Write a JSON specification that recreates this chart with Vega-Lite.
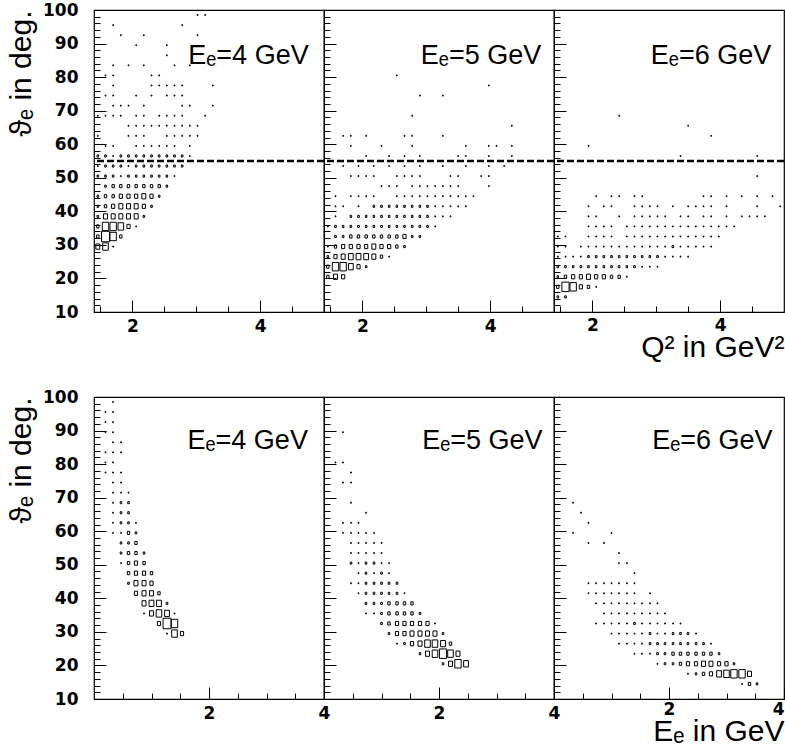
{
  "$schema": "https://vega.github.io/schema/vega-lite/v6.json",
  "background": "white",
  "padding": {"left": 5, "top": 0, "right": 0, "bottom": 0},
  "config": {
    "view": {"stroke": "black", "strokeWidth": 1.2},
    "font": "Liberation Sans",
    "axis": {"domain": false, "grid": false, "tickColor": "black", "tickWidth": 1, "tickCount": 100, "labelColor": "black", "labelFont": "DejaVu Sans", "labelFontWeight": "bold", "labelFontSize": 17, "labelOverlap": false, "labelFlush": false, "labelBound": false, "titleColor": "black", "titleFont": "Liberation Sans", "titleFontWeight": "normal", "titleFontSize": 30}
  },
  "datasets": {
    "q4": [
      {"x":1.46,"t":29.5,"n":5},{"x":1.58,"t":29.5,"n":7},{"x":1.7,"t":29.5,"n":1},
      {"x":1.46,"t":32.5,"n":3},{"x":1.58,"t":32.5,"n":10},{"x":1.7,"t":32.5,"n":8},{"x":1.82,"t":32.5,"n":3},
      {"x":1.46,"t":35.5,"n":3},{"x":1.58,"t":35.5,"n":8},{"x":1.7,"t":35.5,"n":8},{"x":1.82,"t":35.5,"n":7},{"x":1.94,"t":35.5,"n":4},{"x":2.06,"t":35.5,"n":1},
      {"x":1.46,"t":38.5,"n":2},{"x":1.58,"t":38.5,"n":5},{"x":1.7,"t":38.5,"n":5},{"x":1.82,"t":38.5,"n":5},{"x":1.94,"t":38.5,"n":5},{"x":2.06,"t":38.5,"n":5},{"x":2.18,"t":38.5,"n":2},
      {"x":1.46,"t":41.5,"n":2},{"x":1.58,"t":41.5,"n":3},{"x":1.7,"t":41.5,"n":4},{"x":1.82,"t":41.5,"n":5},{"x":1.94,"t":41.5,"n":5},{"x":2.06,"t":41.5,"n":5},{"x":2.18,"t":41.5,"n":4},{"x":2.3,"t":41.5,"n":2},
      {"x":1.46,"t":44.5,"n":2},{"x":1.58,"t":44.5,"n":3},{"x":1.7,"t":44.5,"n":3},{"x":1.82,"t":44.5,"n":4},{"x":1.94,"t":44.5,"n":4},{"x":2.06,"t":44.5,"n":4},{"x":2.18,"t":44.5,"n":5},{"x":2.3,"t":44.5,"n":4},{"x":2.42,"t":44.5,"n":2},
      {"x":1.58,"t":47.5,"n":2},{"x":1.7,"t":47.5,"n":3},{"x":1.82,"t":47.5,"n":3},{"x":1.94,"t":47.5,"n":3},{"x":2.06,"t":47.5,"n":3},{"x":2.18,"t":47.5,"n":3},{"x":2.3,"t":47.5,"n":3},{"x":2.42,"t":47.5,"n":3},{"x":2.54,"t":47.5,"n":2},
      {"x":1.46,"t":50.5,"n":2},{"x":1.58,"t":50.5,"n":2},{"x":1.7,"t":50.5,"n":2},{"x":1.82,"t":50.5,"n":1},{"x":1.94,"t":50.5,"n":2},{"x":2.06,"t":50.5,"n":2},{"x":2.18,"t":50.5,"n":2},{"x":2.3,"t":50.5,"n":2},{"x":2.42,"t":50.5,"n":2},{"x":2.54,"t":50.5,"n":2},{"x":2.66,"t":50.5,"n":1},
      {"x":1.46,"t":53.5,"n":1},{"x":1.58,"t":53.5,"n":2},{"x":1.7,"t":53.5,"n":2},{"x":1.82,"t":53.5,"n":2},{"x":1.94,"t":53.5,"n":1},{"x":2.06,"t":53.5,"n":2},{"x":2.18,"t":53.5,"n":2},{"x":2.3,"t":53.5,"n":2},{"x":2.42,"t":53.5,"n":2},{"x":2.54,"t":53.5,"n":2},{"x":2.66,"t":53.5,"n":2},{"x":2.78,"t":53.5,"n":2},
      {"x":1.46,"t":56.5,"n":2},{"x":1.58,"t":56.5,"n":2},{"x":1.7,"t":56.5,"n":1},{"x":1.82,"t":56.5,"n":2},{"x":1.94,"t":56.5,"n":2},{"x":2.06,"t":56.5,"n":2},{"x":2.18,"t":56.5,"n":2},{"x":2.3,"t":56.5,"n":2},{"x":2.42,"t":56.5,"n":2},{"x":2.54,"t":56.5,"n":2},{"x":2.66,"t":56.5,"n":2},{"x":2.78,"t":56.5,"n":2},{"x":2.9,"t":56.5,"n":1},
      {"x":1.58,"t":59.5,"n":1},{"x":1.7,"t":59.5,"n":1},{"x":2.06,"t":59.5,"n":1},{"x":2.18,"t":59.5,"n":1},{"x":2.3,"t":59.5,"n":1},{"x":2.42,"t":59.5,"n":1},{"x":2.54,"t":59.5,"n":1},{"x":2.66,"t":59.5,"n":1},{"x":2.9,"t":59.5,"n":1},
      {"x":1.46,"t":62.5,"n":1},{"x":1.94,"t":62.5,"n":1},{"x":2.06,"t":62.5,"n":1},{"x":2.18,"t":62.5,"n":1},{"x":2.54,"t":62.5,"n":1},{"x":2.66,"t":62.5,"n":1},{"x":2.78,"t":62.5,"n":1},{"x":2.9,"t":62.5,"n":1},{"x":3.02,"t":62.5,"n":1},
      {"x":1.94,"t":65.5,"n":1},{"x":2.06,"t":65.5,"n":1},{"x":2.18,"t":65.5,"n":1},{"x":2.3,"t":65.5,"n":1},{"x":2.42,"t":65.5,"n":1},{"x":2.54,"t":65.5,"n":1},{"x":2.66,"t":65.5,"n":1},{"x":2.78,"t":65.5,"n":1},{"x":2.9,"t":65.5,"n":1},{"x":3.02,"t":65.5,"n":1},
      {"x":1.46,"t":68.5,"n":1},{"x":1.58,"t":68.5,"n":1},{"x":1.7,"t":68.5,"n":1},{"x":1.82,"t":68.5,"n":1},{"x":2.06,"t":68.5,"n":1},{"x":2.18,"t":68.5,"n":1},{"x":2.42,"t":68.5,"n":1},{"x":2.54,"t":68.5,"n":1},{"x":2.66,"t":68.5,"n":1},{"x":2.78,"t":68.5,"n":1},{"x":3.14,"t":68.5,"n":1},
      {"x":1.7,"t":71.5,"n":1},{"x":1.82,"t":71.5,"n":1},{"x":1.94,"t":71.5,"n":1},{"x":2.18,"t":71.5,"n":1},{"x":2.78,"t":71.5,"n":1},{"x":2.9,"t":71.5,"n":1},{"x":3.26,"t":71.5,"n":1},
      {"x":1.58,"t":74.5,"n":1},{"x":1.7,"t":74.5,"n":1},{"x":2.06,"t":74.5,"n":1},{"x":2.3,"t":74.5,"n":1},{"x":2.54,"t":74.5,"n":1},{"x":2.66,"t":74.5,"n":1},{"x":2.78,"t":74.5,"n":1},
      {"x":1.7,"t":77.5,"n":1},{"x":2.3,"t":77.5,"n":1},{"x":2.42,"t":77.5,"n":1},{"x":2.54,"t":77.5,"n":1},{"x":2.66,"t":77.5,"n":1},{"x":2.78,"t":77.5,"n":1},{"x":3.26,"t":77.5,"n":1},
      {"x":1.58,"t":80.5,"n":1},{"x":1.7,"t":80.5,"n":1},{"x":2.3,"t":80.5,"n":1},{"x":2.42,"t":80.5,"n":1},
      {"x":1.7,"t":83.5,"n":1},{"x":1.94,"t":83.5,"n":1},{"x":2.18,"t":83.5,"n":1},{"x":2.66,"t":83.5,"n":1},{"x":2.9,"t":83.5,"n":1},
      {"x":2.54,"t":86.5,"n":1},
      {"x":2.06,"t":89.5,"n":1},{"x":2.54,"t":89.5,"n":1},
      {"x":1.82,"t":92.5,"n":1},{"x":2.18,"t":92.5,"n":1},{"x":3.02,"t":92.5,"n":1},
      {"x":1.7,"t":95.5,"n":1},{"x":2.78,"t":95.5,"n":1},
      {"x":3.02,"t":98.5,"n":1},{"x":3.14,"t":98.5,"n":1}
    ],
    "q5": [
      {"x":1.46,"t":20.5,"n":3},{"x":1.58,"t":20.5,"n":5},{"x":1.7,"t":20.5,"n":4},
      {"x":1.46,"t":23.5,"n":3},{"x":1.58,"t":23.5,"n":8},{"x":1.7,"t":23.5,"n":8},{"x":1.82,"t":23.5,"n":6},{"x":1.94,"t":23.5,"n":4},{"x":2.06,"t":23.5,"n":2},
      {"x":1.46,"t":26.5,"n":2},{"x":1.58,"t":26.5,"n":4},{"x":1.7,"t":26.5,"n":5},{"x":1.82,"t":26.5,"n":6},{"x":1.94,"t":26.5,"n":6},{"x":2.06,"t":26.5,"n":6},{"x":2.18,"t":26.5,"n":5},{"x":2.3,"t":26.5,"n":3},{"x":2.42,"t":26.5,"n":1},
      {"x":1.46,"t":29.5,"n":1},{"x":1.58,"t":29.5,"n":3},{"x":1.7,"t":29.5,"n":4},{"x":1.82,"t":29.5,"n":4},{"x":1.94,"t":29.5,"n":4},{"x":2.06,"t":29.5,"n":4},{"x":2.18,"t":29.5,"n":5},{"x":2.3,"t":29.5,"n":4},{"x":2.42,"t":29.5,"n":4},{"x":2.54,"t":29.5,"n":3},{"x":2.66,"t":29.5,"n":2},
      {"x":1.58,"t":32.5,"n":2},{"x":1.7,"t":32.5,"n":2},{"x":1.82,"t":32.5,"n":3},{"x":1.94,"t":32.5,"n":3},{"x":2.06,"t":32.5,"n":3},{"x":2.18,"t":32.5,"n":3},{"x":2.3,"t":32.5,"n":3},{"x":2.42,"t":32.5,"n":3},{"x":2.54,"t":32.5,"n":3},{"x":2.66,"t":32.5,"n":4},{"x":2.78,"t":32.5,"n":2},{"x":2.9,"t":32.5,"n":2},
      {"x":1.46,"t":35.5,"n":1},{"x":1.58,"t":35.5,"n":2},{"x":1.7,"t":35.5,"n":2},{"x":1.82,"t":35.5,"n":2},{"x":1.94,"t":35.5,"n":2},{"x":2.06,"t":35.5,"n":2},{"x":2.18,"t":35.5,"n":2},{"x":2.3,"t":35.5,"n":2},{"x":2.42,"t":35.5,"n":2},{"x":2.54,"t":35.5,"n":2},{"x":2.66,"t":35.5,"n":2},{"x":2.78,"t":35.5,"n":2},{"x":2.9,"t":35.5,"n":2},{"x":3.02,"t":35.5,"n":2},{"x":3.14,"t":35.5,"n":1},
      {"x":1.58,"t":38.5,"n":1},{"x":1.82,"t":38.5,"n":2},{"x":1.94,"t":38.5,"n":2},{"x":2.06,"t":38.5,"n":2},{"x":2.18,"t":38.5,"n":2},{"x":2.3,"t":38.5,"n":2},{"x":2.42,"t":38.5,"n":2},{"x":2.54,"t":38.5,"n":2},{"x":2.66,"t":38.5,"n":2},{"x":2.78,"t":38.5,"n":2},{"x":2.9,"t":38.5,"n":2},{"x":3.02,"t":38.5,"n":2},{"x":3.14,"t":38.5,"n":1},{"x":3.26,"t":38.5,"n":1},{"x":3.38,"t":38.5,"n":1},
      {"x":1.58,"t":41.5,"n":1},{"x":1.7,"t":41.5,"n":1},{"x":1.94,"t":41.5,"n":1},{"x":2.18,"t":41.5,"n":2},{"x":2.3,"t":41.5,"n":2},{"x":2.42,"t":41.5,"n":2},{"x":2.54,"t":41.5,"n":2},{"x":2.66,"t":41.5,"n":2},{"x":2.78,"t":41.5,"n":2},{"x":2.9,"t":41.5,"n":2},{"x":3.02,"t":41.5,"n":2},{"x":3.14,"t":41.5,"n":1},{"x":3.26,"t":41.5,"n":1},{"x":3.38,"t":41.5,"n":1},{"x":3.5,"t":41.5,"n":1},{"x":3.62,"t":41.5,"n":1},
      {"x":1.58,"t":44.5,"n":1},{"x":1.82,"t":44.5,"n":1},{"x":1.94,"t":44.5,"n":1},{"x":2.06,"t":44.5,"n":1},{"x":2.18,"t":44.5,"n":1},{"x":2.54,"t":44.5,"n":1},{"x":2.66,"t":44.5,"n":1},{"x":2.78,"t":44.5,"n":1},{"x":2.9,"t":44.5,"n":1},{"x":3.02,"t":44.5,"n":1},{"x":3.14,"t":44.5,"n":1},{"x":3.26,"t":44.5,"n":1},{"x":3.38,"t":44.5,"n":1},{"x":3.5,"t":44.5,"n":1},{"x":3.62,"t":44.5,"n":1},{"x":3.74,"t":44.5,"n":1},
      {"x":2.3,"t":47.5,"n":1},{"x":2.42,"t":47.5,"n":1},{"x":2.54,"t":47.5,"n":1},{"x":2.78,"t":47.5,"n":1},{"x":2.9,"t":47.5,"n":1},{"x":3.02,"t":47.5,"n":1},{"x":3.14,"t":47.5,"n":1},{"x":3.26,"t":47.5,"n":1},{"x":3.38,"t":47.5,"n":1},{"x":3.5,"t":47.5,"n":1},{"x":3.98,"t":47.5,"n":1},
      {"x":1.82,"t":50.5,"n":1},{"x":1.94,"t":50.5,"n":1},{"x":2.06,"t":50.5,"n":1},{"x":2.18,"t":50.5,"n":1},{"x":2.54,"t":50.5,"n":1},{"x":2.66,"t":50.5,"n":1},{"x":2.78,"t":50.5,"n":1},{"x":2.9,"t":50.5,"n":1},{"x":3.38,"t":50.5,"n":1},{"x":3.5,"t":50.5,"n":1},{"x":3.86,"t":50.5,"n":1},{"x":3.98,"t":50.5,"n":1},
      {"x":1.7,"t":53.5,"n":1},{"x":1.94,"t":53.5,"n":1},{"x":2.18,"t":53.5,"n":1},{"x":2.42,"t":53.5,"n":1},{"x":2.66,"t":53.5,"n":1},{"x":2.9,"t":53.5,"n":1},{"x":3.26,"t":53.5,"n":1},{"x":3.62,"t":53.5,"n":1},{"x":3.98,"t":53.5,"n":1},{"x":4.22,"t":53.5,"n":1},
      {"x":2.06,"t":56.5,"n":1},{"x":2.42,"t":56.5,"n":1},{"x":2.66,"t":56.5,"n":1},{"x":2.9,"t":56.5,"n":1},{"x":3.5,"t":56.5,"n":1},{"x":3.62,"t":56.5,"n":1},{"x":3.98,"t":56.5,"n":1},{"x":4.34,"t":56.5,"n":1},
      {"x":1.82,"t":59.5,"n":1},{"x":2.3,"t":59.5,"n":1},{"x":2.78,"t":59.5,"n":1},{"x":3.62,"t":59.5,"n":1},{"x":3.98,"t":59.5,"n":1},{"x":4.1,"t":59.5,"n":1},{"x":4.34,"t":59.5,"n":1},
      {"x":1.7,"t":62.5,"n":1},{"x":1.82,"t":62.5,"n":1},{"x":2.06,"t":62.5,"n":1},{"x":2.66,"t":62.5,"n":1},{"x":2.78,"t":62.5,"n":1},{"x":3.26,"t":62.5,"n":1},
      {"x":4.34,"t":65.5,"n":1},
      {"x":2.78,"t":68.5,"n":1},
      {"x":2.9,"t":74.5,"n":1},{"x":3.26,"t":74.5,"n":1},
      {"x":3.98,"t":77.5,"n":1},
      {"x":2.54,"t":80.5,"n":1}
    ],
    "q6": [
      {"x":1.46,"t":14.5,"n":2},{"x":1.58,"t":14.5,"n":2},
      {"x":1.46,"t":17.5,"n":3},{"x":1.58,"t":17.5,"n":9},{"x":1.7,"t":17.5,"n":8},{"x":1.82,"t":17.5,"n":4},{"x":1.94,"t":17.5,"n":3},{"x":2.06,"t":17.5,"n":1},
      {"x":1.46,"t":20.5,"n":2},{"x":1.58,"t":20.5,"n":3},{"x":1.7,"t":20.5,"n":4},{"x":1.82,"t":20.5,"n":4},{"x":1.94,"t":20.5,"n":5},{"x":2.06,"t":20.5,"n":4},{"x":2.18,"t":20.5,"n":4},{"x":2.3,"t":20.5,"n":3},{"x":2.42,"t":20.5,"n":3},{"x":2.54,"t":20.5,"n":1},
      {"x":1.46,"t":23.5,"n":2},{"x":1.58,"t":23.5,"n":2},{"x":1.7,"t":23.5,"n":2},{"x":1.82,"t":23.5,"n":2},{"x":1.94,"t":23.5,"n":2},{"x":2.06,"t":23.5,"n":2},{"x":2.18,"t":23.5,"n":2},{"x":2.3,"t":23.5,"n":2},{"x":2.42,"t":23.5,"n":2},{"x":2.54,"t":23.5,"n":2},{"x":2.66,"t":23.5,"n":2},{"x":2.78,"t":23.5,"n":1},{"x":2.9,"t":23.5,"n":1},{"x":3.02,"t":23.5,"n":1},
      {"x":1.46,"t":26.5,"n":1},{"x":1.58,"t":26.5,"n":1},{"x":1.7,"t":26.5,"n":1},{"x":1.82,"t":26.5,"n":1},{"x":1.94,"t":26.5,"n":2},{"x":2.06,"t":26.5,"n":2},{"x":2.18,"t":26.5,"n":2},{"x":2.3,"t":26.5,"n":2},{"x":2.42,"t":26.5,"n":2},{"x":2.54,"t":26.5,"n":2},{"x":2.66,"t":26.5,"n":2},{"x":2.78,"t":26.5,"n":2},{"x":2.9,"t":26.5,"n":2},{"x":3.02,"t":26.5,"n":2},{"x":3.14,"t":26.5,"n":1},{"x":3.26,"t":26.5,"n":1},{"x":3.38,"t":26.5,"n":1},{"x":3.5,"t":26.5,"n":1},
      {"x":1.46,"t":29.5,"n":1},{"x":1.58,"t":29.5,"n":1},{"x":1.82,"t":29.5,"n":1},{"x":1.94,"t":29.5,"n":1},{"x":2.06,"t":29.5,"n":1},{"x":2.18,"t":29.5,"n":1},{"x":2.3,"t":29.5,"n":1},{"x":2.42,"t":29.5,"n":1},{"x":2.54,"t":29.5,"n":1},{"x":2.66,"t":29.5,"n":1},{"x":2.78,"t":29.5,"n":1},{"x":2.9,"t":29.5,"n":1},{"x":3.02,"t":29.5,"n":1},{"x":3.14,"t":29.5,"n":1},{"x":3.26,"t":29.5,"n":2},{"x":3.38,"t":29.5,"n":1},{"x":3.5,"t":29.5,"n":1},{"x":3.62,"t":29.5,"n":1},{"x":3.74,"t":29.5,"n":1},{"x":3.86,"t":29.5,"n":1},
      {"x":1.46,"t":32.5,"n":1},{"x":1.58,"t":32.5,"n":1},{"x":1.94,"t":32.5,"n":1},{"x":2.06,"t":32.5,"n":1},{"x":2.18,"t":32.5,"n":1},{"x":2.3,"t":32.5,"n":1},{"x":2.54,"t":32.5,"n":1},{"x":2.66,"t":32.5,"n":1},{"x":2.78,"t":32.5,"n":1},{"x":2.9,"t":32.5,"n":1},{"x":3.02,"t":32.5,"n":1},{"x":3.14,"t":32.5,"n":1},{"x":3.26,"t":32.5,"n":1},{"x":3.38,"t":32.5,"n":1},{"x":3.5,"t":32.5,"n":1},{"x":3.62,"t":32.5,"n":1},{"x":3.74,"t":32.5,"n":1},{"x":3.86,"t":32.5,"n":1},{"x":3.98,"t":32.5,"n":1},
      {"x":1.94,"t":35.5,"n":1},{"x":2.06,"t":35.5,"n":1},{"x":2.18,"t":35.5,"n":1},{"x":2.3,"t":35.5,"n":1},{"x":2.54,"t":35.5,"n":1},{"x":2.66,"t":35.5,"n":1},{"x":2.78,"t":35.5,"n":1},{"x":2.9,"t":35.5,"n":1},{"x":3.02,"t":35.5,"n":1},{"x":3.14,"t":35.5,"n":1},{"x":3.26,"t":35.5,"n":1},{"x":3.38,"t":35.5,"n":1},{"x":3.5,"t":35.5,"n":1},{"x":3.62,"t":35.5,"n":1},{"x":3.74,"t":35.5,"n":1},{"x":3.86,"t":35.5,"n":1},{"x":3.98,"t":35.5,"n":1},{"x":4.1,"t":35.5,"n":1},{"x":4.22,"t":35.5,"n":1},
      {"x":1.94,"t":38.5,"n":1},{"x":2.06,"t":38.5,"n":1},{"x":2.42,"t":38.5,"n":1},{"x":2.66,"t":38.5,"n":1},{"x":2.78,"t":38.5,"n":1},{"x":2.9,"t":38.5,"n":1},{"x":3.02,"t":38.5,"n":1},{"x":3.14,"t":38.5,"n":1},{"x":3.38,"t":38.5,"n":1},{"x":3.5,"t":38.5,"n":1},{"x":3.74,"t":38.5,"n":1},{"x":3.86,"t":38.5,"n":1},{"x":4.1,"t":38.5,"n":1},{"x":4.34,"t":38.5,"n":1},{"x":4.46,"t":38.5,"n":1},{"x":4.58,"t":38.5,"n":1},{"x":4.7,"t":38.5,"n":1},
      {"x":1.94,"t":41.5,"n":1},{"x":2.18,"t":41.5,"n":1},{"x":2.3,"t":41.5,"n":1},{"x":2.66,"t":41.5,"n":1},{"x":2.78,"t":41.5,"n":1},{"x":2.9,"t":41.5,"n":1},{"x":3.02,"t":41.5,"n":1},{"x":3.26,"t":41.5,"n":1},{"x":3.5,"t":41.5,"n":1},{"x":3.62,"t":41.5,"n":1},{"x":3.74,"t":41.5,"n":1},{"x":3.86,"t":41.5,"n":1},{"x":4.1,"t":41.5,"n":1},{"x":4.58,"t":41.5,"n":1},{"x":4.94,"t":41.5,"n":1},
      {"x":2.06,"t":44.5,"n":1},{"x":2.3,"t":44.5,"n":1},{"x":2.42,"t":44.5,"n":1},{"x":2.66,"t":44.5,"n":1},{"x":2.78,"t":44.5,"n":1},{"x":3.74,"t":44.5,"n":1},{"x":3.86,"t":44.5,"n":1},{"x":4.1,"t":44.5,"n":1},{"x":4.34,"t":44.5,"n":1},{"x":4.58,"t":44.5,"n":1},{"x":4.82,"t":44.5,"n":1},
      {"x":4.58,"t":50.5,"n":1},
      {"x":3.38,"t":56.5,"n":1},{"x":4.58,"t":56.5,"n":1},
      {"x":1.94,"t":59.5,"n":1},
      {"x":3.86,"t":62.5,"n":1},
      {"x":3.5,"t":65.5,"n":1},
      {"x":2.42,"t":68.5,"n":1}
    ],
    "e4": [
      {"x":1.27,"t":29.5,"n":1},{"x":1.4,"t":29.5,"n":7},{"x":1.53,"t":29.5,"n":4},
      {"x":1.13,"t":32.5,"n":4},{"x":1.27,"t":32.5,"n":10},{"x":1.4,"t":32.5,"n":8},
      {"x":0.87,"t":35.5,"n":1},{"x":1.0,"t":35.5,"n":5},{"x":1.13,"t":35.5,"n":7},{"x":1.27,"t":35.5,"n":6},{"x":1.4,"t":35.5,"n":1},
      {"x":0.87,"t":38.5,"n":5},{"x":1.0,"t":38.5,"n":6},{"x":1.13,"t":38.5,"n":6},{"x":1.27,"t":38.5,"n":2},
      {"x":0.73,"t":41.5,"n":4},{"x":0.87,"t":41.5,"n":5},{"x":1.0,"t":41.5,"n":5},{"x":1.13,"t":41.5,"n":3},
      {"x":0.6,"t":44.5,"n":2},{"x":0.73,"t":44.5,"n":5},{"x":0.87,"t":44.5,"n":5},{"x":1.0,"t":44.5,"n":4},
      {"x":0.6,"t":47.5,"n":3},{"x":0.73,"t":47.5,"n":4},{"x":0.87,"t":47.5,"n":4},{"x":1.0,"t":47.5,"n":3},
      {"x":0.47,"t":50.5,"n":1},{"x":0.6,"t":50.5,"n":3},{"x":0.73,"t":50.5,"n":4},{"x":0.87,"t":50.5,"n":3},
      {"x":0.47,"t":53.5,"n":2},{"x":0.6,"t":53.5,"n":3},{"x":0.73,"t":53.5,"n":3},{"x":0.87,"t":53.5,"n":2},
      {"x":0.47,"t":56.5,"n":2},{"x":0.6,"t":56.5,"n":2},{"x":0.73,"t":56.5,"n":3},
      {"x":0.33,"t":59.5,"n":1},{"x":0.47,"t":59.5,"n":1},{"x":0.6,"t":59.5,"n":3},{"x":0.73,"t":59.5,"n":2},
      {"x":0.33,"t":62.5,"n":1},{"x":0.47,"t":62.5,"n":2},{"x":0.6,"t":62.5,"n":2},{"x":0.73,"t":62.5,"n":1},
      {"x":0.33,"t":65.5,"n":1},{"x":0.47,"t":65.5,"n":2},{"x":0.6,"t":65.5,"n":2},
      {"x":0.33,"t":68.5,"n":1},{"x":0.47,"t":68.5,"n":2},{"x":0.6,"t":68.5,"n":2},
      {"x":0.33,"t":71.5,"n":1},{"x":0.47,"t":71.5,"n":1},{"x":0.6,"t":71.5,"n":1},
      {"x":0.33,"t":74.5,"n":1},{"x":0.47,"t":74.5,"n":1},
      {"x":0.2,"t":77.5,"n":1},{"x":0.33,"t":77.5,"n":1},{"x":0.47,"t":77.5,"n":1},
      {"x":0.2,"t":80.5,"n":1},{"x":0.33,"t":80.5,"n":1},
      {"x":0.2,"t":83.5,"n":1},{"x":0.33,"t":83.5,"n":1},{"x":0.47,"t":83.5,"n":1},
      {"x":0.33,"t":86.5,"n":1},{"x":0.47,"t":86.5,"n":1},
      {"x":0.2,"t":89.5,"n":1},{"x":0.33,"t":89.5,"n":1},
      {"x":0.2,"t":92.5,"n":1},{"x":0.33,"t":92.5,"n":1},
      {"x":0.2,"t":95.5,"n":1},{"x":0.33,"t":95.5,"n":1},
      {"x":0.33,"t":98.5,"n":1}
    ],
    "e5": [
      {"x":2.07,"t":20.5,"n":2},{"x":2.2,"t":20.5,"n":5},{"x":2.33,"t":20.5,"n":8},{"x":2.47,"t":20.5,"n":6},
      {"x":1.67,"t":23.5,"n":2},{"x":1.8,"t":23.5,"n":5},{"x":1.93,"t":23.5,"n":7},{"x":2.07,"t":23.5,"n":9},{"x":2.2,"t":23.5,"n":7},{"x":2.33,"t":23.5,"n":5},
      {"x":1.27,"t":26.5,"n":1},{"x":1.4,"t":26.5,"n":2},{"x":1.53,"t":26.5,"n":4},{"x":1.67,"t":26.5,"n":5},{"x":1.8,"t":26.5,"n":7},{"x":1.93,"t":26.5,"n":7},{"x":2.07,"t":26.5,"n":6},{"x":2.2,"t":26.5,"n":3},
      {"x":1.13,"t":29.5,"n":2},{"x":1.27,"t":29.5,"n":4},{"x":1.4,"t":29.5,"n":4},{"x":1.53,"t":29.5,"n":5},{"x":1.67,"t":29.5,"n":5},{"x":1.8,"t":29.5,"n":5},{"x":1.93,"t":29.5,"n":5},{"x":2.07,"t":29.5,"n":2},
      {"x":1.0,"t":32.5,"n":2},{"x":1.13,"t":32.5,"n":3},{"x":1.27,"t":32.5,"n":4},{"x":1.4,"t":32.5,"n":4},{"x":1.53,"t":32.5,"n":4},{"x":1.67,"t":32.5,"n":4},{"x":1.8,"t":32.5,"n":4},{"x":1.93,"t":32.5,"n":1},
      {"x":0.73,"t":35.5,"n":1},{"x":0.87,"t":35.5,"n":1},{"x":1.0,"t":35.5,"n":2},{"x":1.13,"t":35.5,"n":3},{"x":1.27,"t":35.5,"n":3},{"x":1.4,"t":35.5,"n":3},{"x":1.53,"t":35.5,"n":3},{"x":1.67,"t":35.5,"n":2},
      {"x":0.73,"t":38.5,"n":2},{"x":0.87,"t":38.5,"n":2},{"x":1.0,"t":38.5,"n":2},{"x":1.13,"t":38.5,"n":3},{"x":1.27,"t":38.5,"n":3},{"x":1.4,"t":38.5,"n":3},{"x":1.53,"t":38.5,"n":3},
      {"x":0.6,"t":41.5,"n":1},{"x":0.73,"t":41.5,"n":2},{"x":0.87,"t":41.5,"n":2},{"x":1.0,"t":41.5,"n":2},{"x":1.13,"t":41.5,"n":2},{"x":1.27,"t":41.5,"n":2},{"x":1.4,"t":41.5,"n":1},
      {"x":0.47,"t":44.5,"n":1},{"x":0.6,"t":44.5,"n":1},{"x":0.73,"t":44.5,"n":2},{"x":0.87,"t":44.5,"n":2},{"x":1.0,"t":44.5,"n":2},{"x":1.13,"t":44.5,"n":2},{"x":1.27,"t":44.5,"n":2},
      {"x":0.6,"t":47.5,"n":1},{"x":0.73,"t":47.5,"n":2},{"x":0.87,"t":47.5,"n":1},{"x":1.0,"t":47.5,"n":2},{"x":1.13,"t":47.5,"n":1},
      {"x":0.47,"t":50.5,"n":2},{"x":0.6,"t":50.5,"n":1},{"x":0.73,"t":50.5,"n":2},{"x":0.87,"t":50.5,"n":2},{"x":1.0,"t":50.5,"n":1},{"x":1.13,"t":50.5,"n":1},
      {"x":0.47,"t":53.5,"n":1},{"x":0.6,"t":53.5,"n":1},{"x":0.73,"t":53.5,"n":1},{"x":0.87,"t":53.5,"n":1},{"x":1.0,"t":53.5,"n":1},
      {"x":0.47,"t":56.5,"n":1},{"x":0.6,"t":56.5,"n":1},{"x":0.73,"t":56.5,"n":1},{"x":0.87,"t":56.5,"n":1},{"x":1.0,"t":56.5,"n":1},
      {"x":0.33,"t":59.5,"n":1},{"x":0.47,"t":59.5,"n":1},{"x":0.6,"t":59.5,"n":1},{"x":0.73,"t":59.5,"n":1},{"x":0.87,"t":59.5,"n":1},
      {"x":0.33,"t":62.5,"n":1},{"x":0.47,"t":62.5,"n":1},{"x":0.6,"t":62.5,"n":1},
      {"x":0.73,"t":65.5,"n":1},
      {"x":0.47,"t":68.5,"n":1},
      {"x":0.33,"t":74.5,"n":1},{"x":0.47,"t":74.5,"n":1},
      {"x":0.47,"t":77.5,"n":1},
      {"x":0.2,"t":80.5,"n":1},{"x":0.33,"t":80.5,"n":1},
      {"x":0.33,"t":89.5,"n":1}
    ],
    "e6": [
      {"x":3.27,"t":14.5,"n":1},{"x":3.4,"t":14.5,"n":3},{"x":3.53,"t":14.5,"n":2},
      {"x":2.33,"t":17.5,"n":1},{"x":2.47,"t":17.5,"n":2},{"x":2.6,"t":17.5,"n":3},{"x":2.73,"t":17.5,"n":4},{"x":2.87,"t":17.5,"n":6},{"x":3.0,"t":17.5,"n":7},{"x":3.13,"t":17.5,"n":8},{"x":3.27,"t":17.5,"n":8},{"x":3.4,"t":17.5,"n":5},
      {"x":1.8,"t":20.5,"n":1},{"x":1.93,"t":20.5,"n":2},{"x":2.07,"t":20.5,"n":2},{"x":2.2,"t":20.5,"n":3},{"x":2.33,"t":20.5,"n":4},{"x":2.47,"t":20.5,"n":4},{"x":2.6,"t":20.5,"n":5},{"x":2.73,"t":20.5,"n":5},{"x":2.87,"t":20.5,"n":4},{"x":3.0,"t":20.5,"n":4},{"x":3.13,"t":20.5,"n":2},
      {"x":1.4,"t":23.5,"n":1},{"x":1.53,"t":23.5,"n":1},{"x":1.67,"t":23.5,"n":1},{"x":1.8,"t":23.5,"n":2},{"x":1.93,"t":23.5,"n":2},{"x":2.07,"t":23.5,"n":3},{"x":2.2,"t":23.5,"n":3},{"x":2.33,"t":23.5,"n":3},{"x":2.47,"t":23.5,"n":3},{"x":2.6,"t":23.5,"n":3},{"x":2.73,"t":23.5,"n":3},{"x":2.87,"t":23.5,"n":2},
      {"x":1.13,"t":26.5,"n":1},{"x":1.27,"t":26.5,"n":1},{"x":1.4,"t":26.5,"n":1},{"x":1.53,"t":26.5,"n":1},{"x":1.67,"t":26.5,"n":2},{"x":1.8,"t":26.5,"n":2},{"x":1.93,"t":26.5,"n":2},{"x":2.07,"t":26.5,"n":2},{"x":2.2,"t":26.5,"n":2},{"x":2.33,"t":26.5,"n":2},{"x":2.47,"t":26.5,"n":2},{"x":2.6,"t":26.5,"n":2},{"x":2.73,"t":26.5,"n":1},
      {"x":1.0,"t":29.5,"n":1},{"x":1.13,"t":29.5,"n":1},{"x":1.27,"t":29.5,"n":1},{"x":1.4,"t":29.5,"n":1},{"x":1.53,"t":29.5,"n":1},{"x":1.67,"t":29.5,"n":2},{"x":1.8,"t":29.5,"n":1},{"x":1.93,"t":29.5,"n":1},{"x":2.07,"t":29.5,"n":2},{"x":2.2,"t":29.5,"n":2},{"x":2.33,"t":29.5,"n":2},{"x":2.47,"t":29.5,"n":1},
      {"x":0.73,"t":32.5,"n":1},{"x":0.87,"t":32.5,"n":1},{"x":1.0,"t":32.5,"n":1},{"x":1.13,"t":32.5,"n":1},{"x":1.27,"t":32.5,"n":1},{"x":1.4,"t":32.5,"n":2},{"x":1.53,"t":32.5,"n":1},{"x":1.67,"t":32.5,"n":1},{"x":1.8,"t":32.5,"n":1},{"x":1.93,"t":32.5,"n":1},{"x":2.07,"t":32.5,"n":1},{"x":2.2,"t":32.5,"n":1},
      {"x":0.87,"t":35.5,"n":1},{"x":1.0,"t":35.5,"n":1},{"x":1.13,"t":35.5,"n":1},{"x":1.27,"t":35.5,"n":1},{"x":1.4,"t":35.5,"n":1},{"x":1.53,"t":35.5,"n":1},{"x":1.67,"t":35.5,"n":1},{"x":1.8,"t":35.5,"n":1},{"x":1.93,"t":35.5,"n":1},
      {"x":0.73,"t":38.5,"n":1},{"x":0.87,"t":38.5,"n":1},{"x":1.0,"t":38.5,"n":1},{"x":1.13,"t":38.5,"n":1},{"x":1.27,"t":38.5,"n":1},{"x":1.4,"t":38.5,"n":1},{"x":1.53,"t":38.5,"n":1},{"x":1.67,"t":38.5,"n":1},{"x":1.8,"t":38.5,"n":1},
      {"x":0.6,"t":41.5,"n":1},{"x":0.73,"t":41.5,"n":1},{"x":0.87,"t":41.5,"n":1},{"x":1.0,"t":41.5,"n":1},{"x":1.13,"t":41.5,"n":1},{"x":1.27,"t":41.5,"n":1},{"x":1.4,"t":41.5,"n":1},{"x":1.67,"t":41.5,"n":1},
      {"x":0.6,"t":44.5,"n":1},{"x":0.73,"t":44.5,"n":1},{"x":0.87,"t":44.5,"n":1},{"x":1.0,"t":44.5,"n":1},{"x":1.13,"t":44.5,"n":1},{"x":1.27,"t":44.5,"n":1},{"x":1.4,"t":44.5,"n":1},
      {"x":1.4,"t":47.5,"n":1},
      {"x":1.13,"t":50.5,"n":1},{"x":1.27,"t":50.5,"n":1},
      {"x":1.13,"t":53.5,"n":1},
      {"x":0.6,"t":56.5,"n":1},{"x":0.87,"t":56.5,"n":1},
      {"x":0.33,"t":59.5,"n":1},{"x":1.0,"t":59.5,"n":1},
      {"x":0.6,"t":62.5,"n":1},
      {"x":0.47,"t":65.5,"n":1},
      {"x":0.33,"t":68.5,"n":1}
    ]
  },
  "concat": [
    {
      "width": 230, "height": 302,
      "layer": [
        {"data": {"name": "q4"}, "mark": {"type": "point", "shape": "M-0.76,-1H0.76V1H-0.76Z", "filled": false, "stroke": "black", "strokeWidth": 1, "opacity": 1},
         "encoding": {
           "x": {"field": "x", "type": "quantitative", "scale": {"domain": [1.4, 5.0], "nice": false, "zero": false}, "axis": {"values": [1.5,2,2.5,3,3.5,4,4.5], "tickCount": 100, "labelExpr": "datum.value == 2 ? '2' : datum.value == 4 ? '4' : ''", "labelOverlap": false, "tickSize": {"condition": {"test": "datum.value == 2 || datum.value == 4", "value": -12}, "value": -6}, "labelPadding": 18, "title": null}},
           "y": {"field": "t", "type": "quantitative", "scale": {"domain": [10, 100], "nice": false, "zero": false}, "axis": {"values": [10,12,14,16,18,20,22,24,26,28,30,32,34,36,38,40,42,44,46,48,50,52,54,56,58,60,62,64,66,68,70,72,74,76,78,80,82,84,86,88,90,92,94,96,98,100], "tickCount": 100, "labelExpr": "datum.value % 10 == 0 ? datum.label : ''", "labelOverlap": false, "tickSize": {"condition": {"test": "datum.value % 10 == 0", "value": -12}, "value": -6}, "labelPadding": 28, "title": "ϑₑ in deg.", "titleAnchor": "end", "titlePadding": 6}},
           "size": {"field": "n", "type": "quantitative", "scale": {"type": "pow", "exponent": 2, "domain": [0, 10], "range": [0, 110]}, "legend": null}
         }},
        {"data": {"values": [{}]}, "mark": {"type": "rule", "strokeDash": [7, 3], "strokeWidth": 2.5, "color": "black"}, "encoding": {"y": {"datum": 55}}},
        {"data": {"values": [{}]}, "mark": {"type": "text", "align": "right", "baseline": "alphabetic", "fontSize": 27, "font": "Liberation Sans", "color": "black"}, "encoding": {"x": {"datum": 4.76}, "y": {"datum": 84}, "text": {"value": "Eₑ=4 GeV"}}}
      ]
    },
    {
      "width": 230, "height": 302,
      "layer": [
        {"data": {"name": "q5"}, "mark": {"type": "point", "shape": "M-0.76,-1H0.76V1H-0.76Z", "filled": false, "stroke": "black", "strokeWidth": 1, "opacity": 1},
         "encoding": {
           "x": {"field": "x", "type": "quantitative", "scale": {"domain": [1.4, 5.0], "nice": false, "zero": false}, "axis": {"values": [1.5,2,2.5,3,3.5,4,4.5], "tickCount": 100, "labelExpr": "datum.value == 2 ? '2' : datum.value == 4 ? '4' : ''", "labelOverlap": false, "tickSize": {"condition": {"test": "datum.value == 2 || datum.value == 4", "value": -12}, "value": -6}, "labelPadding": 18, "title": null}},
           "y": {"field": "t", "type": "quantitative", "scale": {"domain": [10, 100], "nice": false, "zero": false}, "axis": {"values": [10,12,14,16,18,20,22,24,26,28,30,32,34,36,38,40,42,44,46,48,50,52,54,56,58,60,62,64,66,68,70,72,74,76,78,80,82,84,86,88,90,92,94,96,98,100], "tickCount": 100, "labels": false, "tickSize": {"condition": {"test": "datum.value % 10 == 0", "value": -12}, "value": -6}, "title": null}},
           "size": {"field": "n", "type": "quantitative", "scale": {"type": "pow", "exponent": 2, "domain": [0, 10], "range": [0, 110]}, "legend": null}
         }},
        {"data": {"values": [{}]}, "mark": {"type": "rule", "strokeDash": [7, 3], "strokeWidth": 2.5, "color": "black"}, "encoding": {"y": {"datum": 55}}},
        {"data": {"values": [{}]}, "mark": {"type": "text", "align": "right", "baseline": "alphabetic", "fontSize": 27, "font": "Liberation Sans", "color": "black"}, "encoding": {"x": {"datum": 4.8}, "y": {"datum": 84}, "text": {"value": "Eₑ=5 GeV"}}}
      ]
    },
    {
      "width": 230, "height": 302,
      "layer": [
        {"data": {"name": "q6"}, "mark": {"type": "point", "shape": "M-0.76,-1H0.76V1H-0.76Z", "filled": false, "stroke": "black", "strokeWidth": 1, "opacity": 1},
         "encoding": {
           "x": {"field": "x", "type": "quantitative", "scale": {"domain": [1.4, 5.0], "nice": false, "zero": false}, "axis": {"values": [1.5,2,2.5,3,3.5,4,4.5], "tickCount": 100, "labelExpr": "datum.value == 2 ? '2' : datum.value == 4 ? '4' : ''", "labelOverlap": false, "tickSize": {"condition": {"test": "datum.value == 2 || datum.value == 4", "value": -12}, "value": -6}, "labelPadding": 17, "title": "Q² in GeV²", "titleAnchor": "end", "titlePadding": -7}},
           "y": {"field": "t", "type": "quantitative", "scale": {"domain": [10, 100], "nice": false, "zero": false}, "axis": {"values": [10,12,14,16,18,20,22,24,26,28,30,32,34,36,38,40,42,44,46,48,50,52,54,56,58,60,62,64,66,68,70,72,74,76,78,80,82,84,86,88,90,92,94,96,98,100], "tickCount": 100, "labels": false, "tickSize": {"condition": {"test": "datum.value % 10 == 0", "value": -12}, "value": -6}, "title": null}},
           "size": {"field": "n", "type": "quantitative", "scale": {"type": "pow", "exponent": 2, "domain": [0, 10], "range": [0, 110]}, "legend": null}
         }},
        {"data": {"values": [{}]}, "mark": {"type": "rule", "strokeDash": [7, 3], "strokeWidth": 2.5, "color": "black"}, "encoding": {"y": {"datum": 55}}},
        {"data": {"values": [{}]}, "mark": {"type": "text", "align": "right", "baseline": "alphabetic", "fontSize": 27, "font": "Liberation Sans", "color": "black"}, "encoding": {"x": {"datum": 4.8}, "y": {"datum": 84}, "text": {"value": "Eₑ=6 GeV"}}}
      ]
    },
    {
      "width": 230, "height": 302,
      "layer": [
        {"data": {"name": "e4"}, "mark": {"type": "point", "shape": "M-0.76,-1H0.76V1H-0.76Z", "filled": false, "stroke": "black", "strokeWidth": 1, "opacity": 1},
         "encoding": {
           "x": {"field": "x", "type": "quantitative", "scale": {"domain": [0, 4], "nice": false, "zero": false}, "axis": {"values": [0.5,1,1.5,2,2.5,3,3.5,4], "tickCount": 100, "labelExpr": "datum.value == 2 ? '2' : datum.value == 4 ? '4' : ''", "labelOverlap": false, "tickSize": {"condition": {"test": "datum.value == 2 || datum.value == 4", "value": -12}, "value": -6}, "labelPadding": 18, "title": null}},
           "y": {"field": "t", "type": "quantitative", "scale": {"domain": [10, 100], "nice": false, "zero": false}, "axis": {"values": [10,12,14,16,18,20,22,24,26,28,30,32,34,36,38,40,42,44,46,48,50,52,54,56,58,60,62,64,66,68,70,72,74,76,78,80,82,84,86,88,90,92,94,96,98,100], "tickCount": 100, "labelExpr": "datum.value % 10 == 0 ? datum.label : ''", "labelOverlap": false, "tickSize": {"condition": {"test": "datum.value % 10 == 0", "value": -12}, "value": -6}, "labelPadding": 28, "title": "ϑₑ in deg.", "titleAnchor": "end", "titlePadding": 6}},
           "size": {"field": "n", "type": "quantitative", "scale": {"type": "pow", "exponent": 2, "domain": [0, 10], "range": [0, 110]}, "legend": null}
         }},
        {"data": {"values": [{}]}, "mark": {"type": "text", "align": "right", "baseline": "alphabetic", "fontSize": 27, "font": "Liberation Sans", "color": "black"}, "encoding": {"x": {"datum": 3.72}, "y": {"datum": 84.5}, "text": {"value": "Eₑ=4 GeV"}}}
      ]
    },
    {
      "width": 230, "height": 302,
      "layer": [
        {"data": {"name": "e5"}, "mark": {"type": "point", "shape": "M-0.76,-1H0.76V1H-0.76Z", "filled": false, "stroke": "black", "strokeWidth": 1, "opacity": 1},
         "encoding": {
           "x": {"field": "x", "type": "quantitative", "scale": {"domain": [0, 4], "nice": false, "zero": false}, "axis": {"values": [0.5,1,1.5,2,2.5,3,3.5,4], "tickCount": 100, "labelExpr": "datum.value == 2 ? '2' : datum.value == 4 ? '4' : ''", "labelOverlap": false, "tickSize": {"condition": {"test": "datum.value == 2 || datum.value == 4", "value": -12}, "value": -6}, "labelPadding": 18, "title": null}},
           "y": {"field": "t", "type": "quantitative", "scale": {"domain": [10, 100], "nice": false, "zero": false}, "axis": {"values": [10,12,14,16,18,20,22,24,26,28,30,32,34,36,38,40,42,44,46,48,50,52,54,56,58,60,62,64,66,68,70,72,74,76,78,80,82,84,86,88,90,92,94,96,98,100], "tickCount": 100, "labels": false, "tickSize": {"condition": {"test": "datum.value % 10 == 0", "value": -12}, "value": -6}, "title": null}},
           "size": {"field": "n", "type": "quantitative", "scale": {"type": "pow", "exponent": 2, "domain": [0, 10], "range": [0, 110]}, "legend": null}
         }},
        {"data": {"values": [{}]}, "mark": {"type": "text", "align": "right", "baseline": "alphabetic", "fontSize": 27, "font": "Liberation Sans", "color": "black"}, "encoding": {"x": {"datum": 3.8}, "y": {"datum": 84.5}, "text": {"value": "Eₑ=5 GeV"}}}
      ]
    },
    {
      "width": 230, "height": 302,
      "layer": [
        {"data": {"name": "e6"}, "mark": {"type": "point", "shape": "M-0.76,-1H0.76V1H-0.76Z", "filled": false, "stroke": "black", "strokeWidth": 1, "opacity": 1},
         "encoding": {
           "x": {"field": "x", "type": "quantitative", "scale": {"domain": [0, 4], "nice": false, "zero": false}, "axis": {"values": [0.5,1,1.5,2,2.5,3,3.5,4], "tickCount": 100, "labelExpr": "datum.value == 2 ? '2' : datum.value == 4 ? '4' : ''", "labelOverlap": false, "labelFlush": true, "tickSize": {"condition": {"test": "datum.value == 2 || datum.value == 4", "value": -12}, "value": -6}, "labelPadding": 14, "title": "Eₑ in GeV", "titleAnchor": "end", "titlePadding": -7}},
           "y": {"field": "t", "type": "quantitative", "scale": {"domain": [10, 100], "nice": false, "zero": false}, "axis": {"values": [10,12,14,16,18,20,22,24,26,28,30,32,34,36,38,40,42,44,46,48,50,52,54,56,58,60,62,64,66,68,70,72,74,76,78,80,82,84,86,88,90,92,94,96,98,100], "tickCount": 100, "labels": false, "tickSize": {"condition": {"test": "datum.value % 10 == 0", "value": -12}, "value": -6}, "title": null}},
           "size": {"field": "n", "type": "quantitative", "scale": {"type": "pow", "exponent": 2, "domain": [0, 10], "range": [0, 110]}, "legend": null}
         }},
        {"data": {"values": [{}]}, "mark": {"type": "text", "align": "right", "baseline": "alphabetic", "fontSize": 27, "font": "Liberation Sans", "color": "black"}, "encoding": {"x": {"datum": 3.8}, "y": {"datum": 84.5}, "text": {"value": "Eₑ=6 GeV"}}}
      ]
    }
  ],
  "columns": 3,
  "spacing": {"row": 85, "column": 0},
  "bounds": "flush"
}
